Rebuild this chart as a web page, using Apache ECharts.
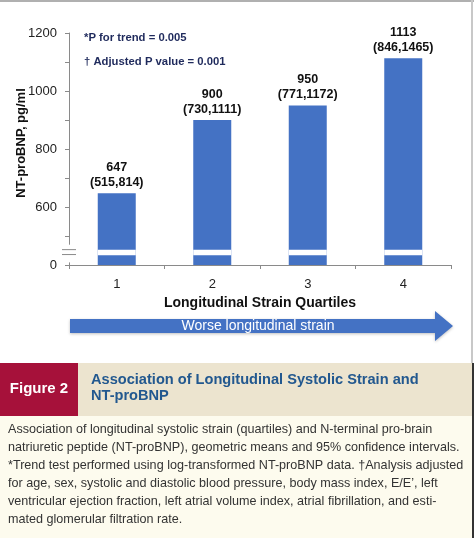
<!DOCTYPE html>
<html><head><meta charset="utf-8">
<script src="https://cdn.jsdelivr.net/npm/echarts@6/dist/echarts.min.js"></script>
<style>html,body{margin:0;padding:0;background:#fff}#c{width:474px;height:538px}</style>
</head><body><div id="c"></div>
<script>
const categories = ['1', '2', '3', '4'];
const means = [647, 900, 950, 1113];
const ciLow = [515, 730, 771, 846];
const ciHigh = [814, 1111, 1172, 1465];
const yTickLabels = {400: '0', 600: '600', 800: '800', 1000: '1000', 1200: '1200'};
const breakFrom = 434;
const breakSize = 19;

const chart = echarts.init(document.getElementById('c'), null, {renderer: 'canvas'});
const font = 'Liberation Sans, Arial, sans-serif';

const option = {
  animation: false,
  backgroundColor: '#fff',
  textStyle: {fontFamily: font},
  grid: {left: 69, right: 23, top: 33, bottom: 273, containLabel: false, outerBoundsMode: 'none'},
  xAxis: {
    type: 'category', data: categories,
    axisLine: {lineStyle: {color: '#8a8a8a', width: 1}},
    axisTick: {show: true, length: 4, lineStyle: {color: '#8a8a8a'}},
    axisLabel: {color: '#222', fontSize: 13, margin: 13, fontFamily: font},
    name: 'Longitudinal Strain Quartiles', nameLocation: 'middle', nameGap: 31, nameMoveOverlap: false,
    nameTextStyle: {fontWeight: 'bold', fontSize: 14, color: '#111', fontFamily: font}
  },
  yAxis: {
    type: 'value', min: 400, max: 1200, interval: 200,
    axisLine: {show: true, lineStyle: {color: '#8a8a8a', width: 1}},
    axisTick: {show: true, length: 4, lineStyle: {color: '#8a8a8a'}},
    minorTick: {show: true, splitNumber: 2, length: 4, lineStyle: {color: '#8a8a8a'}},
    splitLine: {show: false},
    axisLabel: {color: '#222', fontSize: 13, margin: 12, fontFamily: font,
      formatter: v => yTickLabels[v] !== undefined ? yTickLabels[v] : ''},
    name: 'NT-proBNP, pg/ml', nameLocation: 'middle', nameGap: 41, nameRotate: 90, nameMoveOverlap: false,
    nameTextStyle: {fontWeight: 'bold', fontSize: 13, color: '#111', fontFamily: font, padding: [0, 0, 0, 12]}
  },
  series: [
    {
      type: 'bar', data: means, barWidth: 38, barGap: '-100%',
      itemStyle: {color: '#4472C4'},
      label: {
        show: true, position: 'top', distance: 3,
        fontWeight: 'bold', fontSize: 12.5, color: '#111', lineHeight: 15, fontFamily: font,
        formatter: p => means[p.dataIndex] + '\n(' + ciLow[p.dataIndex] + ',' + ciHigh[p.dataIndex] + ')'
      }
    },
    {
      type: 'bar', stack: 'brk', barWidth: 38, barGap: '-100%', silent: true,
      data: categories.map(() => breakFrom),
      itemStyle: {color: 'rgba(0,0,0,0)'}
    },
    {
      type: 'bar', stack: 'brk', barWidth: 38, barGap: '-100%', silent: true,
      data: categories.map(() => breakSize),
      itemStyle: {color: '#fff'}
    }
  ]
};
chart.setOption(option);

const bodyLines = [
  'Association of longitudinal systolic strain (quartiles) and N-terminal pro-brain',
  'natriuretic peptide (NT-proBNP), geometric means and 95% confidence intervals.',
  '*Trend test performed using log-transformed NT-proBNP data. \u2020Analysis adjusted',
  'for age, sex, systolic and diastolic blood pressure, body mass index, E/E\u2019, left',
  'ventricular ejection fraction, left atrial volume index, atrial fibrillation, and esti-',
  'mated glomerular filtration rate.'
];

const yTop = chart.convertToPixel({yAxisIndex: 0}, 470);
const yBot = chart.convertToPixel({yAxisIndex: 0}, 409);
const yM1 = chart.convertToPixel({yAxisIndex: 0}, breakFrom + breakSize);
const yM2 = chart.convertToPixel({yAxisIndex: 0}, breakFrom + 2);
const axisX = chart.convertToPixel({xAxisIndex: 0}, 0) - chart.getModel().getComponent('xAxis', 0).axis.getBandWidth() / 2;

chart.setOption({
  graphic: [
    {type: 'line', shape: {x1: 0, y1: 1, x2: 474, y2: 1}, style: {stroke: '#b0b0b0', lineWidth: 2}},
    {type: 'line', shape: {x1: 472, y1: 0, x2: 472, y2: 363}, style: {stroke: '#c8c8c8', lineWidth: 2}},
    {type: 'rect', shape: {x: axisX - 3, y: yTop, width: 6, height: yBot - yTop}, style: {fill: '#fff'}, z: 50},
    {type: 'line', shape: {x1: axisX - 7, y1: yM1, x2: axisX + 7, y2: yM1}, style: {stroke: '#8a8a8a', lineWidth: 1}, z: 51},
    {type: 'line', shape: {x1: axisX - 7, y1: yM2, x2: axisX + 7, y2: yM2}, style: {stroke: '#8a8a8a', lineWidth: 1}, z: 51},
    {type: 'text', x: 84, y: 38, style: {text: '*P for trend = 0.005', fill: '#1f2a5c', font: 'bold 11.3px ' + font, textVerticalAlign: 'middle'}},
    {type: 'text', x: 84, y: 62, style: {text: '\u2020 Adjusted P value = 0.001', fill: '#1f2a5c', font: 'bold 11.3px ' + font, textVerticalAlign: 'middle'}},
    {type: 'polygon', shape: {points: [[70, 319], [435, 319], [435, 311], [453, 326], [435, 341], [435, 333], [70, 333]]},
      style: {fill: '#4472C4', shadowBlur: 3, shadowColor: 'rgba(0,0,0,0.25)', shadowOffsetY: 1}},
    {type: 'text', x: 258, y: 326, style: {text: 'Worse longitudinal strain', fill: '#fff', font: '14px ' + font, textAlign: 'center', textVerticalAlign: 'middle'}},
    {type: 'rect', shape: {x: 0, y: 363, width: 472, height: 53}, style: {fill: '#ece4cf'}},
    {type: 'rect', shape: {x: 0, y: 363, width: 78, height: 53}, style: {fill: '#a6113a'}},
    {type: 'text', x: 39, y: 389, style: {text: 'Figure 2', fill: '#fff', font: 'bold 15px ' + font, textAlign: 'center', textVerticalAlign: 'middle'}},
    {type: 'text', x: 91, y: 372, style: {text: 'Association of Longitudinal Systolic Strain and\nNT-proBNP', fill: '#22588f', font: 'bold 14.6px ' + font, lineHeight: 16}},
    {type: 'rect', shape: {x: 0, y: 416, width: 472, height: 122}, style: {fill: '#fdfbee'}},
    {type: 'rect', shape: {x: 472, y: 363, width: 2, height: 175}, style: {fill: '#333'}},
    {type: 'text', x: 8, y: 421, style: {text: bodyLines.join('\n'), fill: '#333', font: '12.6px ' + font, lineHeight: 18}}
  ]
});
</script></body></html>
